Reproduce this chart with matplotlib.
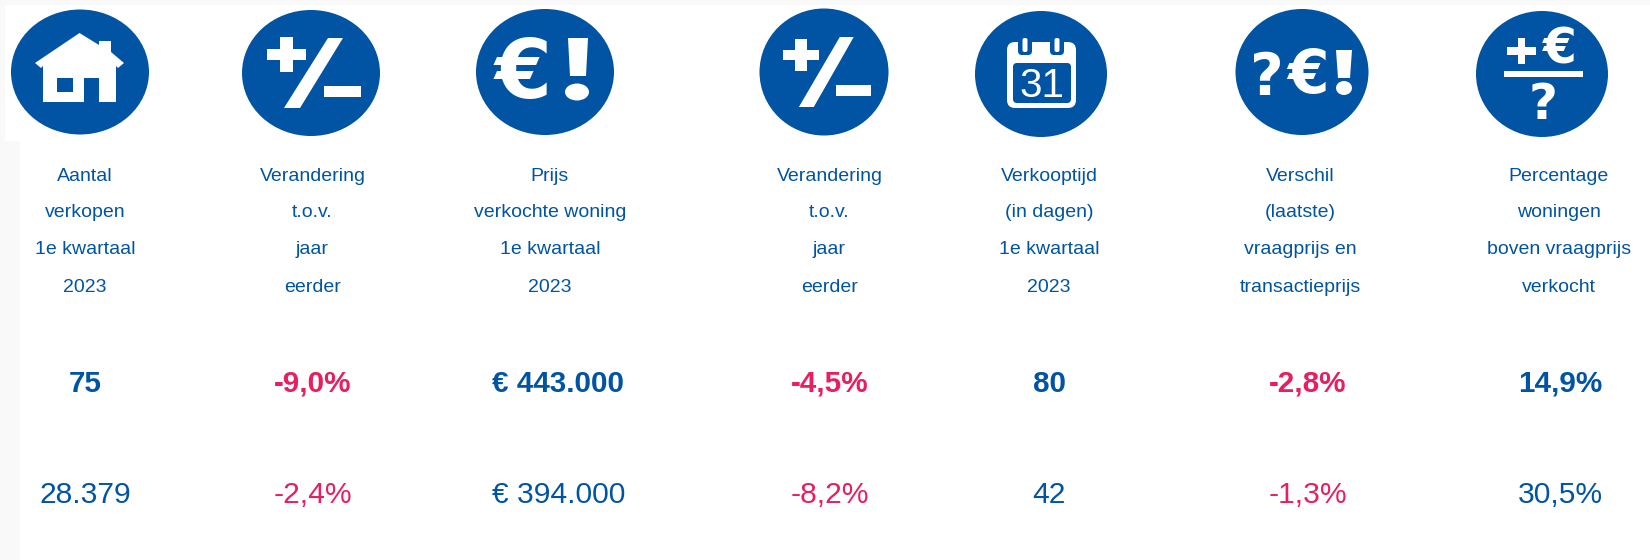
import matplotlib
matplotlib.use('Agg')
import matplotlib.pyplot as plt
from matplotlib.patches import Ellipse, Polygon, Rectangle, FancyBboxPatch

plt.rcParams['font.family'] = ['Liberation Sans', 'DejaVu Sans']

BLUE = '#0054A3'
PINK = '#E91E5F'
GREY = '#F9F9F9'

#chart content
labels = [
    ['Aantal', 'verkopen', '1e kwartaal', '2023'],
    ['Verandering', 't.o.v.', 'jaar', 'eerder'],
    ['Prijs', 'verkochte woning', '1e kwartaal', '2023'],
    ['Verandering', 't.o.v.', 'jaar', 'eerder'],
    ['Verkooptijd', '(in dagen)', '1e kwartaal', '2023'],
    ['Verschil', '(laatste)', 'vraagprijs en', 'transactieprijs'],
    ['Percentage', 'woningen', 'boven vraagprijs', 'verkocht'],
]
local_values = ['75', '-9,0%', '€ 443.000', '-4,5%', '80', '-2,8%', '14,9%']
national_values = ['28.379', '-2,4%', '€ 394.000', '-8,2%', '42', '-1,3%', '30,5%']
value_colors = [BLUE, PINK, BLUE, PINK, BLUE, PINK, BLUE]

#layout in pixels
label_x = [85, 312.5, 550, 829.5, 1049, 1300, 1559]
value_x = [85.5, 312.5, 558.5, 830, 1049, 1308, 1560]
label_y = [176.5, 212.5, 249.5, 287]
local_y = 384
national_y = 495
circle_x = [80, 311, 545, 824, 1041, 1302, 1542]
circle_y = [72, 73, 72, 72, 74, 72, 74]
circle_rx = [69, 69, 69, 64.5, 66, 66.5, 66]
circle_ry = [62.5, 63, 63, 63.5, 63, 63, 63]

fig = plt.figure(figsize=(16.5, 5.6), dpi=100, facecolor=GREY)
ax = fig.add_axes([0, 0, 1, 1])
ax.set_xlim(0, 1650)
ax.set_ylim(560, 0)
ax.axis('off')

#white page on the grey background
ax.add_patch(Rectangle((20, 140), 1630, 420, color='white', lw=0))
ax.add_patch(Rectangle((5, 5), 1645, 136, color='white', lw=0))


def white_poly(points):
    ax.add_patch(Polygon(points, closed=True, color='white', lw=0, zorder=3))


def white_rect(x0, y0, x1, y1, color='white'):
    ax.add_patch(Rectangle((x0, y0), x1 - x0, y1 - y0, color=color, lw=0, zorder=3))


def white_dot(x, y, rx, ry):
    ax.add_patch(Ellipse((x, y), 2 * rx, 2 * ry, color='white', lw=0, zorder=3))


def glyph(x, y, s, size, family='DejaVu Sans', weight='bold'):
    ax.text(x, y, s, color='white', fontsize=size, family=family, weight=weight,
            ha='center', va='baseline', zorder=4)


def house():
    white_poly([(79.5, 33), (99, 45), (99, 41), (111, 41), (111, 52), (124, 63), (118, 68),
                (116, 66), (116, 102), (43, 102), (43, 66), (41, 68), (35, 63)])
    white_rect(57, 78, 73, 92, BLUE)
    white_rect(84, 78, 99, 102, BLUE)


def plus_minus(cx, cy, s):
    white_rect(cx - 44 * s, cy - 24 * s, cx - 5 * s, cy - 13 * s)
    white_rect(cx - 31 * s, cy - 36 * s, cx - 18 * s, cy - 1 * s)
    white_poly([(cx + 17 * s, cy - 35), (cx + 32 * s, cy - 35), (cx - 11 * s, cy + 35), (cx - 27 * s, cy + 35)])
    white_rect(cx + 13 * s, cy + 13, cx + 50 * s, cy + 24)


def euro_bang():
    glyph(523, 98, '€', 59)
    white_poly([(568, 38), (588, 38), (586, 76), (570, 76)])
    white_dot(577, 92, 12, 8.5)


def calendar():
    ax.add_patch(FancyBboxPatch((1011, 46), 61, 58, boxstyle='round,pad=4,rounding_size=8',
                                color='white', lw=0, zorder=3))
    ax.add_patch(FancyBboxPatch((1015, 65), 54, 36, boxstyle='round,pad=2,rounding_size=4',
                                color=BLUE, lw=0, zorder=3))
    for x in [1025, 1057]:
        ax.add_patch(FancyBboxPatch((x - 4, 40), 8, 12, boxstyle='round,pad=3,rounding_size=4',
                                    color=BLUE, lw=0, zorder=4))
        ax.add_patch(FancyBboxPatch((x - 1.5, 39), 3, 12, boxstyle='round,pad=1,rounding_size=2',
                                    color='white', lw=0, zorder=5))
    ax.text(1042, 97, '31', color='white', fontsize=29, ha='center', va='baseline', zorder=4)


def question_euro_bang():
    glyph(1267, 95, '?', 42)
    glyph(1308, 93, '€', 43)
    white_poly([(1336, 50), (1352, 50), (1350, 78), (1338, 78)])
    white_dot(1344, 88, 8, 7)


def fraction():
    white_rect(1507, 47, 1536, 55)
    white_rect(1518, 38, 1525, 64)
    glyph(1560, 63, '€', 35)
    white_rect(1504, 71, 1583, 77)
    glyph(1543, 119, '?', 36)


#icon circles
for x, y, rx, ry in zip(circle_x, circle_y, circle_rx, circle_ry):
    ax.add_patch(Ellipse((x, y), 2 * rx, 2 * ry, color=BLUE, lw=0, zorder=2))

house()
plus_minus(311, 73, 1)
euro_bang()
plus_minus(824, 72, 0.93)
calendar()
question_euro_bang()
fraction()

#text rows
for lx, vx, lines, local, national, col in zip(label_x, value_x, labels, local_values, national_values, value_colors):
    for y, line in zip(label_y, lines):
        ax.text(lx, y, line, color=BLUE, fontsize=14, ha='center', va='center')
    ax.text(vx, local_y, local, color=col, fontsize=21.3, weight='bold', ha='center', va='center')
    ax.text(vx, national_y, national, color=col, fontsize=21.6, ha='center', va='center')

fig.savefig('out.png', dpi=100, facecolor=fig.get_facecolor())
